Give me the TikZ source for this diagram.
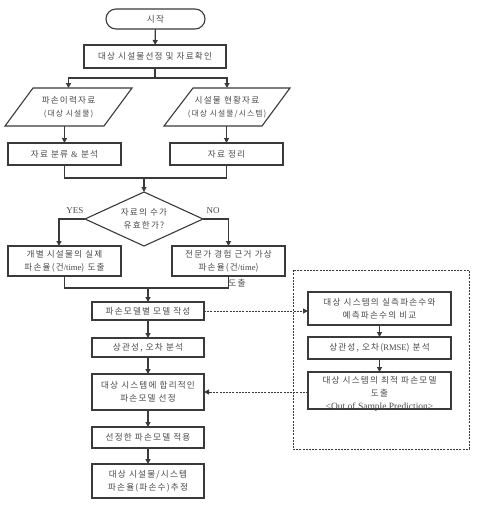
\documentclass[tikz,border=0pt]{standalone}
\usepackage{fontspec}
\newfontfamily\kr[LetterSpace=14]{Noto Sans CJK KR}
\setmainfont{Liberation Serif}
\newcommand{\lat}[1]{{\rmfamily #1}}
\usetikzlibrary{shapes.geometric,arrows.meta}
\definecolor{lc}{HTML}{3a3a3a}
\definecolor{tc}{HTML}{4a4a4a}
\begin{document}
\begin{tikzpicture}[x=1pt,y=-1pt,
  every node/.style={inner sep=0pt, outer sep=0pt},
  txt/.style={text=tc, align=center, font=\kr\fontsize{8.6}{13}\selectfont},
  box/.style={txt, draw=lc, line width=1.1pt, fill=white, minimum height=#1},
  box/.default=22pt,
  ln/.style={draw=lc, line width=1.2pt},
  arr/.style={ln, -{Triangle[length=5pt,width=5pt]}},
  darr/.style={draw=lc, line width=1pt, dash pattern=on 2pt off 1.2pt, -{Triangle[length=5pt,width=5pt]}},
  lab/.style={text=tc, font=\fontsize{9}{10}\selectfont}
]
\useasboundingbox (0,0) rectangle (479,511);

% start
\node[box=20pt, minimum width=99pt, rounded corners=10pt] (s) at (155.5,19) {시작};
\node[box=23pt, minimum width=142pt] (n1) at (155,56.5) {대상 시설물선정 및 자료확인};
\draw[arr] (s) -- (n1);

% parallelograms
\draw[ln, line width=1.1pt, fill=white] (33,88) -- (132,88) -- (104,126) -- (5,126) -- cycle;
\node[txt, minimum width=99pt, minimum height=38pt] (p1) at (68.5,107) {파손이력자료\\{\fontsize{7.8}{13}\selectfont (대상 시설물)}};
\draw[ln, line width=1.1pt, fill=white] (193,88) -- (290,88) -- (262,126) -- (164,126) -- cycle;
\node[txt, minimum width=97pt, minimum height=38pt] (p2) at (227,107) {시설물 현황자료\\{\fontsize{7.8}{13}\selectfont (대상 시설물/시스템)}};

\coordinate (br) at (155,78);
\draw[ln] (n1.south) -- (br);
\draw[arr] (br) -| (p1.north);
\draw[arr] (br) -| (p2.north);

% boxes
\node[box, minimum width=113pt] (b1) at (64.5,154) {자료 분류 \lat{\&} 분석};
\node[box, minimum width=113pt] (b2) at (226.5,154) {자료 정리};
\draw[arr] (p1.south -| b1.north) -- (b1.north);
\draw[arr] (p2.south -| b2.north) -- (b2.north);

% diamond
\node[txt, draw=lc, line width=1.1pt, fill=white, diamond, minimum width=118pt, minimum height=54pt, aspect=2.2] (d) at (144,219) {자료의 수가\\유효한가?};
\coordinate (m1c) at (144,178);
\draw[ln] (b1.south) |- (m1c);
\draw[ln] (b2.south) |- (m1c);
\draw[arr] (m1c) -- (d.north);

\node[box=30pt, minimum width=113pt] (c1) at (64.5,261) {개별 시설물의 실제\\파손율(건\lat{/time}) 도출};
\node[box=30pt, minimum width=113pt] (c2) at (228.5,261) {전문가 경험 근거 가상\\파손율(건\lat{/time})};
\node[txt] (c2x) at (237,283) {도출};

\draw[arr] (d.west) -| ([xshift=-5.5pt]c1.north);
\draw[arr] (d.east) -| (c2.north);
\node[lab] (yes) at (75,211) {YES};
\node[lab] (no) at (213,211) {NO};

% merge 2
\node[box=18pt, minimum width=112pt] (m1) at (148,311) {파손모델별 모델 작성};
\coordinate (m2c) at (148,288);
\draw[ln] (c1.south) |- (m2c);
\draw[ln] (c2.south) |- (m2c);
\draw[arr] (m2c) -- (m1.north);

\node[box=19pt, minimum width=112pt] (m2) at (148,347.5) {상관성, 오차 분석};
\node[box=36pt, minimum width=112pt] (m3) at (148,392) {대상 시스템에 합리적인\\파손모델 선정};
\node[box=21pt, minimum width=112pt] (m4) at (148,437.5) {선정한 파손모델 적용};
\node[box=34pt, minimum width=112pt] (m5) at (148,481) {대상 시설물/시스템\\파손율(파손수)추정};
\draw[arr] (m1) -- (m2);
\draw[arr] (m2) -- (m3);
\draw[arr] (m3) -- (m4);
\draw[arr] (m4) -- (m5);

% right dashed region
\node[draw=lc, line width=1pt, dash pattern=on 2pt off 1.2pt, minimum width=176pt, minimum height=179pt] (reg) at (381,359.5) {};
\node[box=33pt, minimum width=143pt] (r1) at (379.5,308.5) {대상 시스템의 실측파손수와\\예측파손수의 비교};
\node[box=22pt, minimum width=143pt] (r2) at (379.5,348) {상관성, 오차(\lat{RMSE}) 분석};
\node[box=37pt, minimum width=143pt, text depth=8pt] (r3) at (379.5,390.5) {대상 시스템의 최적 파손모델\\도출};
\node[text=tc, font=\fontsize{9.5}{10}\selectfont] (oos) at (379.5,407.5) {<Out of Sample Prediction>};
\draw[arr] (r1) -- (r2);
\draw[arr] (r2) -- (r3);

\draw[darr] (m1.east) -- (m1.east -| r1.west);
\draw[darr] (r3.west |- m3.east) -- (m3.east);
\end{tikzpicture}
\end{document}
